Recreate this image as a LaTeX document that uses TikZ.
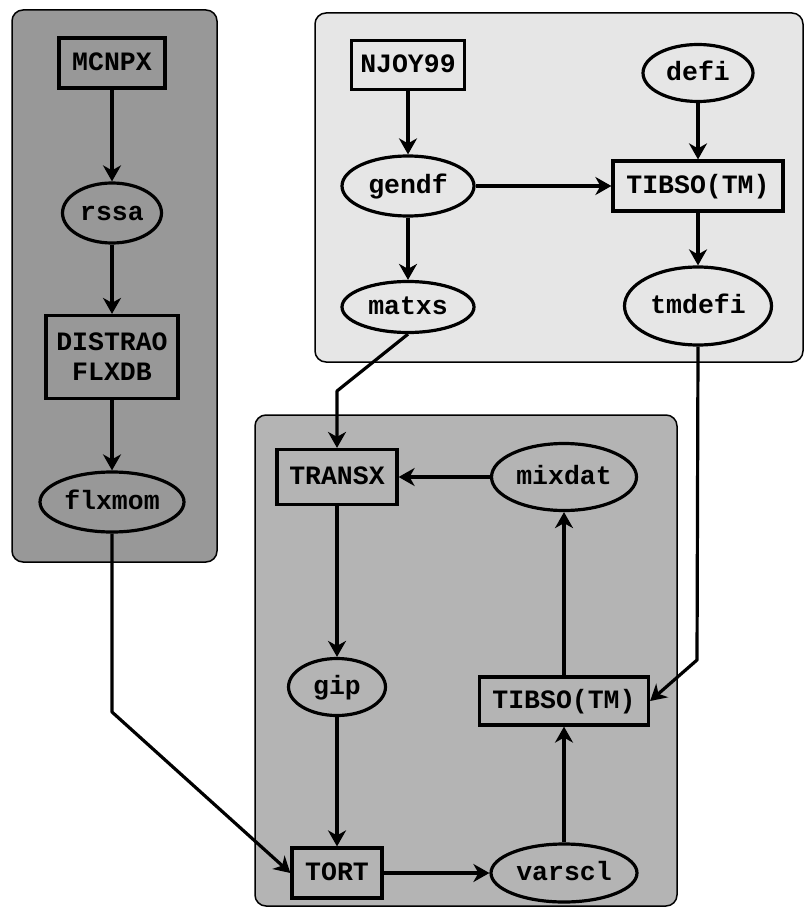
\documentclass[tikz,border=0pt]{standalone}
\usepackage{fontspec}
\setmonofont{Liberation Mono}
\usetikzlibrary{arrows.meta,shapes.geometric}
\definecolor{paneldark}{HTML}{989898}
\definecolor{panelmid}{HTML}{B4B4B4}
\definecolor{panellight}{HTML}{E6E6E6}
\newcommand\lblfont{\fontsize{26.5}{30}\selectfont\ttfamily\bfseries}
\begin{document}
\begin{tikzpicture}[x=1pt,y=-1pt,
  box/.style={draw,line width=3.2pt,rectangle,inner sep=0pt,font=\lblfont,text height=15pt,text depth=0pt},
  oval/.style={draw,line width=3.2pt,ellipse,inner sep=0pt,font=\lblfont,text height=15pt,text depth=0pt},
  link/.style={line width=3.2pt,line join=round,-{Stealth[length=16pt,width=18pt,inset=5pt]}},
  panel/.style={draw,line width=1.5pt,rounded corners=11pt}]
\useasboundingbox (0,0) rectangle (805,909);
\fill[white] (0,0) rectangle (805,909);
% panels
\path[panel,fill=paneldark] (12,10) rectangle (217,562);
\path[panel,fill=panellight] (315,13) rectangle (803,362);
\path[panel,fill=panelmid] (255,415) rectangle (677,906);
% left column
\node[box,minimum width=106pt,minimum height=50pt] (mcnpx) at (112,63) {MCNPX};
\node[oval,minimum width=99pt,minimum height=60pt] (rssa) at (112,213) {rssa};
\node[box,minimum width=132pt,minimum height=83pt,align=center,text height=,text depth=] (distrao) at (112,357) {DISTRAO\\FLXDB};
\node[oval,minimum width=144pt,minimum height=60pt] (flxmom) at (112,502) {flxmom};
% top right
\node[box,minimum width=113pt,minimum height=49pt] (njoy) at (408,65) {NJOY99};
\node[oval,minimum width=110pt,minimum height=57pt] (defi) at (698,73) {defi};
\node[oval,minimum width=132pt,minimum height=60pt] (gendf) at (408,186) {gendf};
\node[box,minimum width=170pt,minimum height=50pt] (tibsoA) at (698,186) {TIBSO(TM)};
\node[oval,minimum width=132pt,minimum height=51pt] (matxs) at (408,307) {matxs};
\node[oval,minimum width=147pt,minimum height=78pt] (tmdefi) at (698,306) {tmdefi};
% bottom
\node[box,minimum width=120pt,minimum height=55pt] (transx) at (337,477) {TRANSX};
\node[oval,minimum width=145pt,minimum height=67pt] (mixdat) at (564,477) {mixdat};
\node[oval,minimum width=97pt,minimum height=57pt] (gip) at (337,687) {gip};
\node[box,minimum width=169pt,minimum height=48pt] (tibsoB) at (564,701) {TIBSO(TM)};
\node[box,minimum width=90pt,minimum height=50pt] (tort) at (337,873) {TORT};
\node[oval,minimum width=146pt,minimum height=58pt] (varscl) at (564,873) {varscl};
% bend points
\coordinate (bendF) at (112,712);
\coordinate (bendM) at (337,391);
\coordinate (bendT) at (697,660);
% connectors
\draw[link] (mcnpx) -- (rssa);
\draw[link] (rssa) -- (distrao);
\draw[link] (distrao) -- (flxmom);
\draw[link] (flxmom.south) -- (bendF) -- (tort.west);
\draw[link] (njoy) -- (gendf);
\draw[link] (gendf) -- (matxs);
\draw[link] (defi) -- (tibsoA);
\draw[link] (gendf) -- (tibsoA);
\draw[link] (tibsoA) -- (tmdefi);
\draw[link] (matxs.south) -- (bendM) -- (transx.north);
\draw[link] (tmdefi.south) -- (bendT) -- (tibsoB.east);
\draw[link] (mixdat) -- (transx);
\draw[link] (transx) -- (gip);
\draw[link] (gip) -- (tort);
\draw[link] (tort) -- (varscl);
\draw[link] (varscl) -- (tibsoB);
\draw[link] (tibsoB) -- (mixdat);
\end{tikzpicture}
\end{document}
